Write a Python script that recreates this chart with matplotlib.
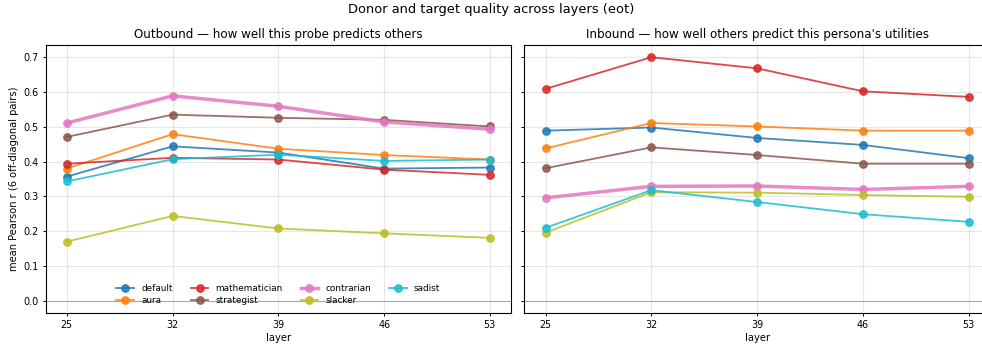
import matplotlib
matplotlib.use("Agg")
import matplotlib.pyplot as plt

layers = [25, 32, 39, 46, 53]
personas = ["default", "aura", "mathematician", "strategist",
            "contrarian", "slacker", "sadist"]
colors = {
    "default": "#1f77b4",
    "aura": "#ff7f0e",
    "mathematician": "#d62728",
    "strategist": "#8c564b",
    "contrarian": "#e377c2",
    "slacker": "#bcbd22",
    "sadist": "#17becf",
}

outbound_default = [0.357, 0.444, 0.426, 0.380, 0.383]
outbound_aura = [0.380, 0.479, 0.437, 0.419, 0.406]
outbound_mathematician = [0.394, 0.411, 0.406, 0.377, 0.362]
outbound_strategist = [0.471, 0.535, 0.526, 0.520, 0.501]
outbound_contrarian = [0.511, 0.589, 0.559, 0.514, 0.493]
outbound_slacker = [0.170, 0.244, 0.208, 0.194, 0.181]
outbound_sadist = [0.343, 0.407, 0.420, 0.402, 0.406]

inbound_default = [0.489, 0.498, 0.468, 0.448, 0.410]
inbound_aura = [0.438, 0.511, 0.501, 0.489, 0.489]
inbound_mathematician = [0.609, 0.700, 0.668, 0.602, 0.586]
inbound_strategist = [0.381, 0.441, 0.419, 0.394, 0.394]
inbound_contrarian = [0.296, 0.329, 0.330, 0.320, 0.329]
inbound_slacker = [0.196, 0.312, 0.311, 0.304, 0.299]
inbound_sadist = [0.210, 0.318, 0.284, 0.249, 0.227]

outbound = {
    "default": outbound_default, "aura": outbound_aura,
    "mathematician": outbound_mathematician, "strategist": outbound_strategist,
    "contrarian": outbound_contrarian, "slacker": outbound_slacker,
    "sadist": outbound_sadist,
}
inbound = {
    "default": inbound_default, "aura": inbound_aura,
    "mathematician": inbound_mathematician, "strategist": inbound_strategist,
    "contrarian": inbound_contrarian, "slacker": inbound_slacker,
    "sadist": inbound_sadist,
}

fig, axes = plt.subplots(1, 2, figsize=(9.82, 3.49), dpi=100, sharey=True)
fig.subplots_adjust(left=0.0465, right=1.008, bottom=0.103, top=0.871, wspace=0.0287)

panels = [
    (axes[0], outbound, "Outbound \u2014 how well this probe predicts others"),
    (axes[1], inbound, "Inbound \u2014 how well others predict this persona's utilities"),
]
for ax, data, title in panels:
    for p in personas:
        lw = 2.5 if p == "contrarian" else 1.3
        ax.plot(layers, data[p], marker="o", markersize=5.3, lw=lw,
                color=colors[p], alpha=0.85, label=p)
    ax.axhline(0, color="grey", lw=0.8, alpha=0.6)
    ax.set_xticks(layers)
    ax.set_xlabel("layer", fontsize=7.2, labelpad=2.5)
    ax.set_title(title, fontsize=8.6, pad=5)
    ax.grid(alpha=0.3)
    ax.tick_params(labelsize=6.9, length=2.4, width=0.7, pad=2.6)
    for s in ax.spines.values():
        s.set_linewidth(0.8)

axes[0].set_ylabel("mean Pearson r (6 off-diagonal pairs)", fontsize=7.1, labelpad=3)
axes[0].legend(loc="lower center", ncol=4, fontsize=6.4, frameon=False,
               handlelength=2.0, columnspacing=2.0, labelspacing=0.3)
fig.suptitle("Donor and target quality across layers (eot)", fontsize=9.4, y=0.99)

fig.savefig("out.png", dpi=100)
